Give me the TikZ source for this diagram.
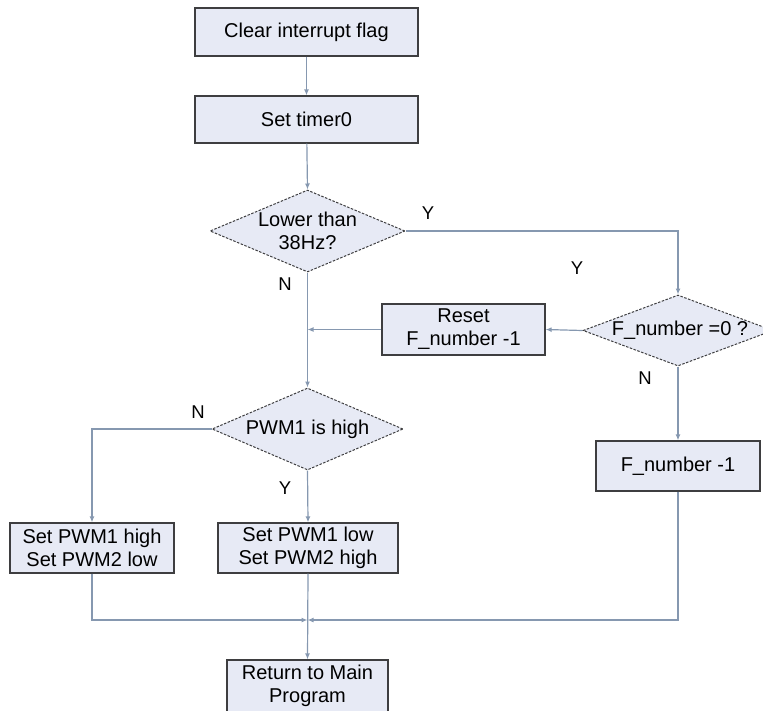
\documentclass[tikz,border=0pt]{standalone}
\usepackage{fontspec}
\setmainfont{Liberation Sans}
\usetikzlibrary{shapes.geometric,arrows.meta}
\definecolor{boxfill}{HTML}{E7EAF5}
\definecolor{boxline}{HTML}{3E3E40}
\definecolor{conn}{HTML}{8698B0}
\tikzset{
  procbox/.style={draw=boxline, line width=1.2pt, fill=boxfill, rectangle, inner sep=0pt, align=center,
    font=\fontsize{20}{23}\selectfont},
  decide/.style={draw=boxline, line width=1pt, dash pattern=on 2.5pt off 1.5pt, fill=boxfill, diamond, inner sep=0pt},
  dtext/.style={align=center, inner sep=0pt, font=\fontsize{20}{23}\selectfont},
  lbl/.style={inner sep=0pt, font=\fontsize{18.5}{20}\selectfont},
  flow/.style={draw=conn, line width=1.2pt, -{Latex[length=6pt,width=5pt]}},
  flowplain/.style={draw=conn, line width=1.2pt},
}
\begin{document}
\begin{tikzpicture}[x=1pt,y=-1pt]
\useasboundingbox (0,0) rectangle (763,710);
% process boxes
\node[procbox, minimum width=223pt, minimum height=48pt] (b1) at (306.5,32) {Clear interrupt flag};
\node[procbox, minimum width=223pt, minimum height=47pt] (b2) at (306.5,119.5) {Set timer0};
\node[procbox, minimum width=163pt, minimum height=51pt] (reset) at (463.5,329.5) {Reset\\F\_number -1};
\node[procbox, minimum width=164pt, minimum height=50pt] (fn) at (678,466) {F\_number -1};
\node[procbox, minimum width=164pt, minimum height=50pt] (pwmh) at (92,548) {Set PWM1 high\\Set PWM2 low};
\node[procbox, minimum width=180pt, minimum height=50pt] (pwml) at (308,548) {Set PWM1 low\\Set PWM2 high};
\node[procbox, minimum width=161pt, minimum height=52pt] (ret) at (307.5,686) {Return to Main\\Program};
% decisions
\node[decide, minimum width=195pt, minimum height=82pt] (d1) at (307.5,231) {};
\node[dtext] (d1t) at (307.5,231) {Lower than\\38Hz?};
\node[decide, minimum width=190pt, minimum height=71pt] (d2) at (678,330.5) {};
\node[dtext] (d2t) at (680,330.5) {F\_number =0 ?};
\node[decide, minimum width=191pt, minimum height=82pt] (d3) at (307.5,429) {};
\node[dtext] (d3t) at (307.5,429) {PWM1 is high};
% junctions
\coordinate (j1) at (d1.south |- reset.west);
\coordinate (m) at (307.5,620);
% connectors
\draw[flow] (b1) -- (b2);
\draw[flow] (b2) -- (d1.north);
\draw[flowplain] (d1.south) -- (j1);
\draw[flow] (j1) -- (d3.north);
\draw[flow] (reset.west) -- (j1);
\draw[flow] (d1.east) -| (d2.north);
\draw[flow] (d2.west) -- (reset.east);
\draw[flow] (d2.south) -- (fn.north);
\draw[flow] (d3.west) -| (pwmh.north);
\draw[flow] (d3.south) -- (pwml.north);
\draw[flow] (pwmh.south) |- (m);
\draw[flow] (fn.south) |- (m);
\draw[flow] (pwml.south) -- (ret.north);
% labels
\node[lbl] (ly1) at (428,213) {Y};
\node[lbl] (ly2) at (577,268) {Y};
\node[lbl] (ln1) at (285,284) {N};
\node[lbl] (ln2) at (645,378) {N};
\node[lbl] (ln3) at (198,412) {N};
\node[lbl] (ly3) at (285,488) {Y};
\end{tikzpicture}
\end{document}
